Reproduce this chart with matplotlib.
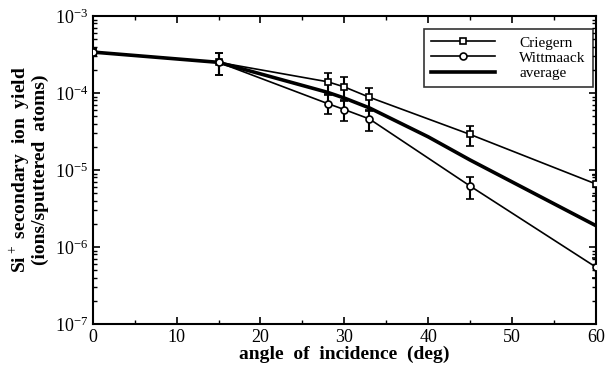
import matplotlib
matplotlib.use("Agg")
import matplotlib.pyplot as plt
from matplotlib.lines import Line2D
from matplotlib.ticker import LogLocator, MultipleLocator, NullFormatter

plt.rcParams['font.family'] = ['Liberation Serif', 'DejaVu Serif']
plt.rcParams['mathtext.fontset'] = 'custom'
plt.rcParams['mathtext.rm'] = 'Liberation Serif'
plt.rcParams['mathtext.bf'] = 'Liberation Serif:bold'

# data
criegern_x = [0, 15, 28, 30, 33, 45, 60]
criegern_y = [3.4e-4, 2.5e-4, 1.4e-4, 1.2e-4, 8.8e-5, 2.9e-5, 6.6e-6]
criegern_err = [0.4e-4, 0.8e-4, 0.44e-4, 0.4e-4, 0.29e-4, 0.85e-5, 2.0e-6]

wittmaack_x = [0, 15, 28, 30, 33, 45, 60]
wittmaack_y = [3.4e-4, 2.5e-4, 7.3e-5, 6.1e-5, 4.6e-5, 6.2e-6, 5.5e-7]
wittmaack_err = [0.4e-4, 0.8e-4, 2.0e-5, 1.8e-5, 1.4e-5, 2.0e-6, 1.6e-7]

average_x = [0, 15, 28, 30, 33, 40, 45, 60]
average_y = [3.4e-4, 2.5e-4, 1.02e-4, 8.6e-5, 6.4e-5, 2.7e-5, 1.35e-5, 1.9e-6]

series_labels = ['Criegern', 'Wittmaack', 'average']

fig = plt.figure(figsize=(6.11, 3.72), dpi=100)
ax = fig.add_axes([0.152, 0.129, 0.823, 0.828])

ax.errorbar(criegern_x, criegern_y, yerr=criegern_err, color='black', lw=1.2,
            marker='s', ms=5, mfc='white', mec='black', mew=1.2,
            capsize=3, elinewidth=1.5, capthick=1.5, zorder=3)
ax.errorbar(wittmaack_x, wittmaack_y, yerr=wittmaack_err, color='black', lw=1.2,
            marker='o', ms=5, mfc='white', mec='black', mew=1.2,
            capsize=3, elinewidth=1.5, capthick=1.5, zorder=3)
ax.plot(average_x, average_y, color='black', lw=2.6, zorder=2)

ax.set_yscale('log')
ax.set_xlim(0, 60)
ax.set_ylim(1e-7, 1e-3)
ax.xaxis.set_major_locator(MultipleLocator(10))
ax.xaxis.set_minor_locator(MultipleLocator(5))
ax.yaxis.set_major_locator(LogLocator(base=10, numticks=10))
ax.yaxis.set_minor_locator(LogLocator(base=10, subs=range(2, 10), numticks=20))
ax.yaxis.set_minor_formatter(NullFormatter())

ax.tick_params(which='both', direction='in', top=True, right=True, labelsize=13)
ax.tick_params(which='major', length=5, width=1.2)
ax.tick_params(which='minor', length=3, width=1.0)
for s in ax.spines.values():
    s.set_linewidth(1.5)

ax.set_xlabel('angle  of  incidence  (deg)', fontsize=14, fontweight='bold', labelpad=0)
ax.set_ylabel('Si$^+$ secondary  ion  yield\n(ions/sputtered  atoms)', fontsize=14,
              fontweight='bold', labelpad=4, linespacing=1.0)

handles = [
    Line2D([], [], color='black', lw=1.2, marker='s', ms=5, mfc='white', mec='black', mew=1.2),
    Line2D([], [], color='black', lw=1.2, marker='o', ms=5, mfc='white', mec='black', mew=1.2),
    Line2D([], [], color='black', lw=2.6),
]
leg = ax.legend(handles, series_labels, loc='upper right', bbox_to_anchor=(0.994, 0.958),
                fontsize=11, frameon=True, fancybox=False, edgecolor='black',
                handlelength=4.2, borderpad=0.45, labelspacing=0.1, handletextpad=1.6,
                borderaxespad=0)
leg.get_frame().set_linewidth(1.2)

fig.savefig('out.png', dpi=100)
